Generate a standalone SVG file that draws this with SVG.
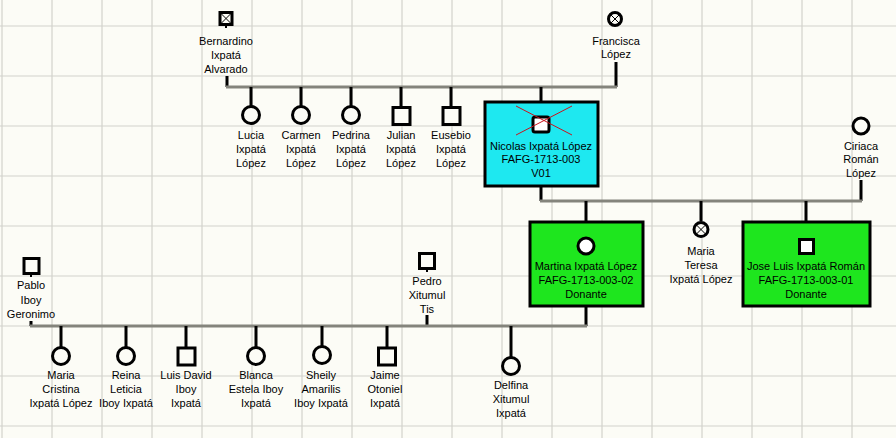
<svg xmlns="http://www.w3.org/2000/svg" width="896" height="438" viewBox="0 0 896 438">
<defs>
<style>
.bg{fill:#fcfcf6}
.grid{stroke:#d2d2cc;stroke-width:1.2}
.sib{stroke:#84847c;stroke-width:3;fill:none}
.ln{stroke:#000;stroke-width:3;fill:none}
.sym{stroke:#000;stroke-width:3;fill:#fcfcf6}
.symw{stroke:#000;stroke-width:3;fill:#fff}
.x{stroke:#000;stroke-width:1}
.rx{stroke:#c8141e;stroke-width:1}
.box{stroke:#000;stroke-width:3}
.cyan{fill:#1ee8f0}
.green{fill:#1ee61e}
text{font-family:"Liberation Sans",Arial,sans-serif;font-size:11px;fill:#000;text-anchor:middle}
</style>
</defs>
<rect class="bg" x="0" y="0" width="896" height="438"/>
<g id="grid">
<path class="grid" d="M2 0V438M52 0V438M102 0V438M152 0V438M202 0V438M252 0V438M302 0V438M352 0V438M402 0V438M452 0V438M502 0V438M552 0V438M602 0V438M652 0V438M702 0V438M752 0V438M802 0V438M852 0V438M0 26H896M0 76H896M0 126H896M0 176H896M0 226H896M0 276H896M0 326H896M0 376H896M0 426H896"/>
</g>
<g id="connectors">
<path class="ln" d="M227 76V87M616 62V87"/>
<path class="sib" d="M226 87H617"/>
<path class="ln" d="M251 87V106M301 87V106M351 87V106M401 87V107M451 87V107M541 87V102"/>
<path class="ln" d="M541 186V201M861 180V201"/>
<path class="sib" d="M540 201H862"/>
<path class="ln" d="M586 201V222M701 201V221M806 201V222"/>
<path class="ln" d="M586 306V326M427 315V326M31 321V326"/>
<path class="sib" d="M30 326H587"/>
<path class="ln" d="M61 326V347M126 326V347M186 326V347M256 326V347M322 326V346M387 326V347M511 326V357"/>
</g>
<g id="bernardino">
<rect class="sym" x="220" y="12.5" width="12" height="12"/>
<path class="x" d="M221 13.5L231 23.5M231 13.5L221 23.5"/>
<path class="ln" d="M226 25V28" style="stroke-width:2"/>
<text x="226" y="45">Bernardino</text>
<text x="226" y="59">Ixpatá</text>
<text x="226" y="73">Alvarado</text>
</g>
<g id="francisca">
<circle class="sym" cx="615" cy="19" r="6.5"/>
<path class="x" d="M611 15L619 23M619 15L611 23"/>
<text x="616" y="44.5">Francisca</text>
<text x="616" y="58">López</text>
</g>
<g id="lucia">
<circle class="sym" cx="251" cy="115" r="8.5"/>
<text x="251" y="139">Lucia</text><text x="251" y="153">Ixpatá</text><text x="251" y="167">López</text>
</g>
<g id="carmen">
<circle class="sym" cx="301" cy="115" r="8.5"/>
<text x="301" y="139">Carmen</text><text x="301" y="153">Ixpatá</text><text x="301" y="167">López</text>
</g>
<g id="pedrina">
<circle class="sym" cx="351" cy="115" r="8.5"/>
<text x="351" y="139">Pedrina</text><text x="351" y="153">Ixpatá</text><text x="351" y="167">López</text>
</g>
<g id="julian">
<rect class="sym" x="393" y="107.5" width="17" height="17"/>
<text x="401" y="139">Julian</text><text x="401" y="153">Ixpatá</text><text x="401" y="167">López</text>
</g>
<g id="eusebio">
<rect class="sym" x="443" y="107.5" width="17" height="17"/>
<text x="451" y="139">Eusebio</text><text x="451" y="153">Ixpatá</text><text x="451" y="167">López</text>
</g>
<g id="nicolas">
<rect class="box cyan" x="485" y="102" width="113" height="84"/>
<rect class="symw" x="533" y="117" width="16" height="15" rx="2"/>
<path class="rx" d="M516 106L572 135M516 135L572 106"/>
<text x="541" y="149.5">Nicolas Ixpatá López</text>
<text x="541" y="163">FAFG-1713-003</text>
<text x="541" y="177">V01</text>
</g>
<g id="ciriaca">
<circle class="sym" cx="861" cy="126" r="8"/>
<text x="861" y="149.5">Ciriaca</text><text x="861" y="163">Román</text><text x="861" y="177">López</text>
</g>
<g id="martina">
<rect class="box green" x="530" y="222" width="113" height="84"/>
<circle class="symw" cx="586" cy="246" r="8"/>
<text x="586" y="269.5">Martina Ixpatá López</text>
<text x="586" y="283.5">FAFG-1713-003-02</text>
<text x="586" y="297.5">Donante</text>
</g>
<g id="maria-teresa">
<circle class="sym" cx="701" cy="229.5" r="7"/>
<path class="x" d="M696.5 225L705.5 234M705.5 225L696.5 234"/>
<text x="701" y="255">Maria</text><text x="701" y="268.5">Teresa</text><text x="701" y="282.5">Ixpatá López</text>
</g>
<g id="jose-luis">
<rect class="box green" x="743" y="222" width="127" height="84"/>
<rect class="symw" x="799.5" y="239.5" width="14" height="14"/>
<text x="806" y="269.5">Jose Luis Ixpatá Román</text>
<text x="806" y="283.5">FAFG-1713-003-01</text>
<text x="806" y="297.5">Donante</text>
</g>
<g id="pedro">
<rect class="sym" x="419.5" y="253.5" width="15" height="15"/>
<path class="ln" d="M427 270V272" style="stroke-width:2"/>
<text x="427" y="285">Pedro</text><text x="427" y="298.5">Xitumul</text><text x="427" y="312.5">Tis</text>
</g>
<g id="pablo">
<rect class="sym" x="24" y="258.5" width="15" height="15"/>
<path class="ln" d="M31 275V277" style="stroke-width:2"/>
<text x="31" y="289">Pablo</text><text x="31" y="303.5">Iboy</text><text x="31" y="317.5">Geronimo</text>
</g>
<g id="maria-cristina">
<circle class="sym" cx="61" cy="356" r="8.5"/>
<text x="61" y="379">Maria</text><text x="61" y="393">Cristina</text><text x="61" y="407">Ixpatá López</text>
</g>
<g id="reina">
<circle class="sym" cx="126" cy="356" r="8.5"/>
<text x="126" y="379">Reina</text><text x="126" y="393">Leticia</text><text x="126" y="407">Iboy Ixpatá</text>
</g>
<g id="luis-david">
<rect class="sym" x="178" y="348" width="17" height="17"/>
<text x="186" y="379">Luis David</text><text x="186" y="393">Iboy</text><text x="186" y="407">Ixpatá</text>
</g>
<g id="blanca">
<circle class="sym" cx="256" cy="356" r="8.5"/>
<text x="256" y="379">Blanca</text><text x="256" y="393">Estela Iboy</text><text x="256" y="407">Ixpatá</text>
</g>
<g id="sheily">
<circle class="sym" cx="322" cy="355" r="8.5"/>
<text x="321" y="379">Sheily</text><text x="321" y="393">Amarilis</text><text x="321" y="407">Iboy Ixpatá</text>
</g>
<g id="jaime">
<rect class="sym" x="378.5" y="348" width="17" height="17"/>
<text x="385" y="379">Jaime</text><text x="385" y="393">Otoniel</text><text x="385" y="407">Ixpatá</text>
</g>
<g id="delfina">
<circle class="sym" cx="511" cy="366" r="8.5"/>
<text x="511" y="389">Delfina</text><text x="511" y="403">Xitumul</text><text x="511" y="417">Ixpatá</text>
</g>
</svg>
